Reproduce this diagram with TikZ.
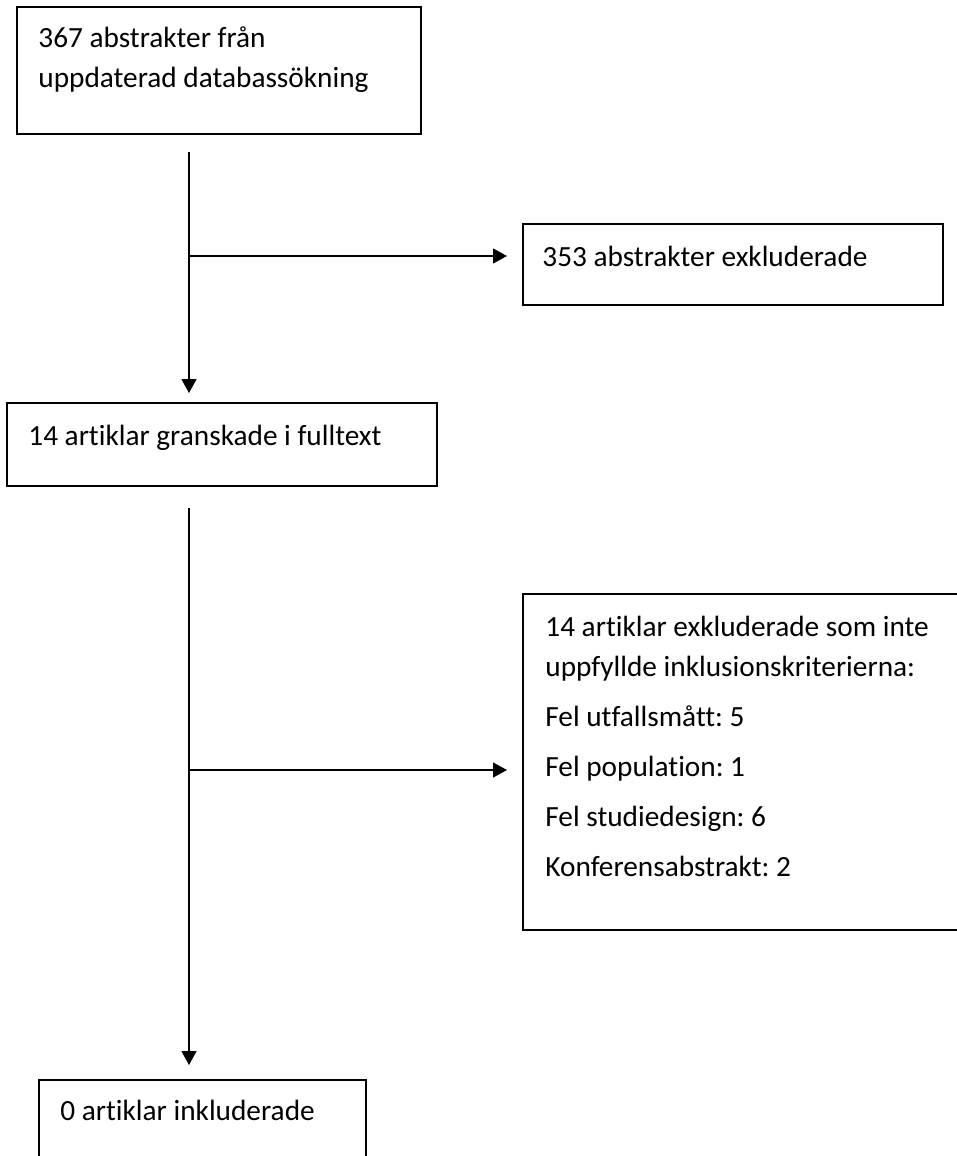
\documentclass[tikz,border=0pt]{standalone}
\usepackage{fontspec}
\setmainfont{Carlito}[Ligatures={NoCommon}]
\usetikzlibrary{arrows.meta}
\frenchspacing
\begin{document}
\begin{tikzpicture}[x=0.5pt,y=-0.5pt,
  box/.style={draw, line width=0.9pt, inner sep=0pt, outer sep=0pt},
  txt/.style={anchor=base west, inner sep=0pt, font=\fontsize{14.65}{20}\selectfont},
  ln/.style={line width=0.6pt},
  arr/.style={line width=0.6pt, -{Triangle[length=7pt,width=7.5pt]}}]
\useasboundingbox (0,0) rectangle (957,1156);
% boxes
\node[box, minimum width=202pt, minimum height=63.5pt] (b1) at (219,70.5) {};
\node[box, minimum width=210pt, minimum height=40.5pt] (b3) at (733,264.5) {};
\node[box, minimum width=215pt, minimum height=41.5pt] (b2) at (222,444.5) {};
\node[box, minimum width=226pt, minimum height=168pt] (b4) at (749,762) {};
\node[box, minimum width=163.5pt, minimum height=55pt] (b5) at (202.5,1135) {};
% texts
\node[txt] (t1a) at (38,48) {367 abstrakter från};
\node[txt] (t1b) at (38,88) {uppdaterad databassökning};
\node[txt] (t3) at (542,266) {353 abstrakter exkluderade};
\node[txt] (t2) at (28,445) {14 artiklar granskade i fulltext};
\node[txt] (t4a) at (545,636) {14 artiklar exkluderade som inte};
\node[txt] (t4b) at (545,676) {uppfyllde inklusionskriterierna:};
\node[txt] (t4c) at (545,726) {Fel utfallsmått: 5};
\node[txt] (t4d) at (545,776) {Fel population: 1};
\node[txt] (t4e) at (545,826) {Fel studiedesign: 6};
\node[txt] (t4f) at (545,876) {Konferensabstrakt: 2};
\node[txt] (t5) at (60,1120) {0 artiklar inkluderade};
% connectors
\coordinate (v1) at (189,152);
\coordinate (j1) at (189,256);
\coordinate (v2) at (189,508);
\coordinate (j2) at (189,770);
\draw[arr, shorten >=5pt] (v1) -- (v1 |- b2.north);
\draw[arr, shorten >=8pt] (j1) -- (j1 -| b3.west);
\draw[arr, shorten >=7.5pt] (v2) -- (v2 |- b5.north);
\draw[arr, shorten >=8pt] (j2) -- (j2 -| b4.west);
\end{tikzpicture}
\end{document}
